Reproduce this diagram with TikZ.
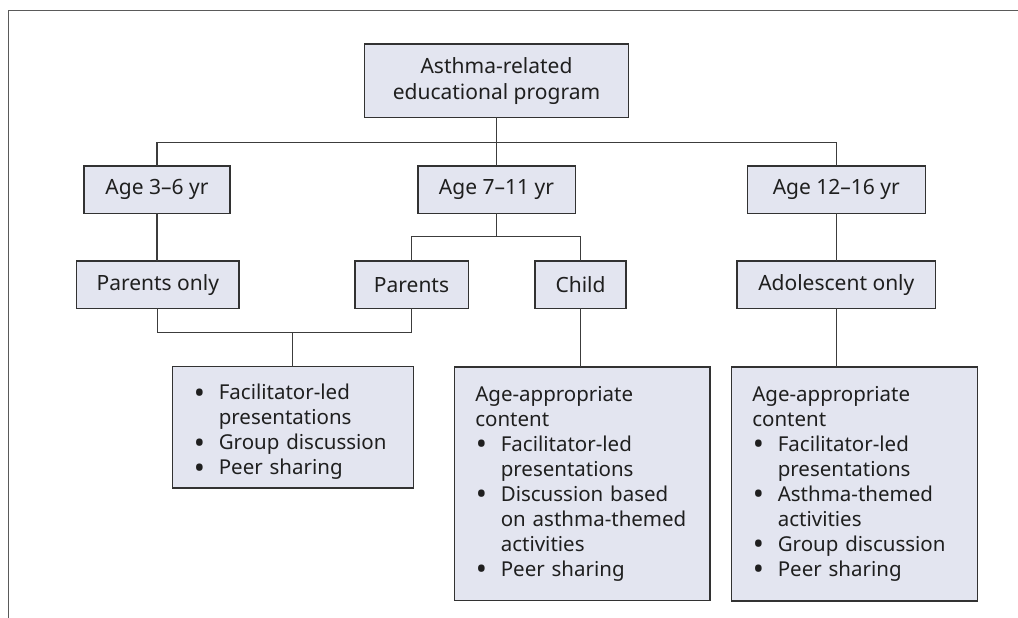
\documentclass[tikz,border=0pt]{standalone}
\usepackage{fontspec}
\setmainfont{Noto Sans}
\usepackage{tikz}
\setlength{\parindent}{0pt}
\hyphenpenalty=10000
\exhyphenpenalty=10000
\definecolor{boxfill}{RGB}{227,229,240}
\definecolor{boxline}{RGB}{50,50,50}
\definecolor{linkgray}{RGB}{60,60,60}
\definecolor{framegray}{RGB}{90,90,90}
\tikzset{box/.style={draw=boxline, fill=boxfill, line width=1.6pt, inner sep=0pt, outer sep=0pt, text=black!88, font=\fontsize{21}{26}\selectfont},
%boxes with bullet lists
listbox/.style={box, align=left, inner xsep=21pt, font=\fontsize{20.5}{25}\selectfont},
link/.style={draw=linkgray, line width=1.3pt}}
% one bullet item with hanging indent
\newcommand{\bitem}[1]{\par\noindent\hangindent=25.5pt\hangafter=1\makebox[25.5pt][l]{\hspace{0.5pt}\smash{\raisebox{-0.18em}{\scalebox{1.45}{\textbullet}}}}#1}

\begin{document}
\begin{tikzpicture}[x=1pt, y=-1pt]
\useasboundingbox (0,0) rectangle (1018,618);
% frame
\draw [framegray, line width=1.8pt] (8.5,618) |- (1018,10.5);

\node[box, minimum width=264pt, minimum height=73pt, align=center] (prog) at (496.5,80.8) {Asthma-related\\educational program};

% age groups
\foreach \n/\x/\w/\t in {young/157/146/{Age 3–6 yr}, mid/496.5/157.6/{Age 7–11 yr}, teen/836.3/178/{Age 12–16 yr}}
     \node[box, minimum width=\w pt, minimum height=47.3pt] (\n) at (\x,189.7) {\t};

% who takes part
\foreach \n/\x/\w/\t in {ponly/157.8/162.3/{Parents only}, par/411.5/113.6/{Parents}, child/580.5/91/{Child}, adol/836.3/198.7/{Adolescent only}}
     \node[box, minimum width=\w pt, minimum height=47.3pt] (\n) at (\x,284.7) {\t};

% contents
\node[listbox, text width=199pt, minimum height=121.3pt] (shared) at (292.8,427.3)
  {\bitem{Facilitator-led\newline presentations}\bitem{Group discussion}\bitem{Peer sharing}};
\node[listbox, text width=213.4pt, minimum height=233.6pt] (cbox) at (582,483.5)
  {Age-appropriate\newline content\bitem{Facilitator-led\newline presentations}\bitem{Discussion based\newline on asthma-themed\newline activities}\bitem{Peer sharing}};
\node[listbox, text width=204pt, minimum height=234pt] (abox) at (854.3,483.7)
  {Age-appropriate\newline content\bitem{Facilitator-led\newline presentations}\bitem{Asthma-themed\newline activities}\bitem{Group discussion}\bitem{Peer sharing}};

% connectors
\coordinate (bus) at (496.5,142.3);
\coordinate (split) at (496.5,236.7);
\coordinate (merge) at (292.8,332.7);
\draw [link] (prog) -- (mid);
\draw [link] (young.north) |- (bus) -| (teen.north);
\draw [link] (young.south) -- (young.south |- ponly.north);
\draw [link] (mid) -- (split);
\draw [link] (par.north) |- (split) -| (child.north);
\draw [link] (teen) -- (adol);
\draw [link] (ponly.south) |- (merge) -| (par.south);
\draw [link] (merge) -- (shared);
\draw [link] (child.south) -- (child.south |- cbox.north);
\draw [link] (adol.south) -- (adol.south |- abox.north);

\end{tikzpicture}
\end{document}
